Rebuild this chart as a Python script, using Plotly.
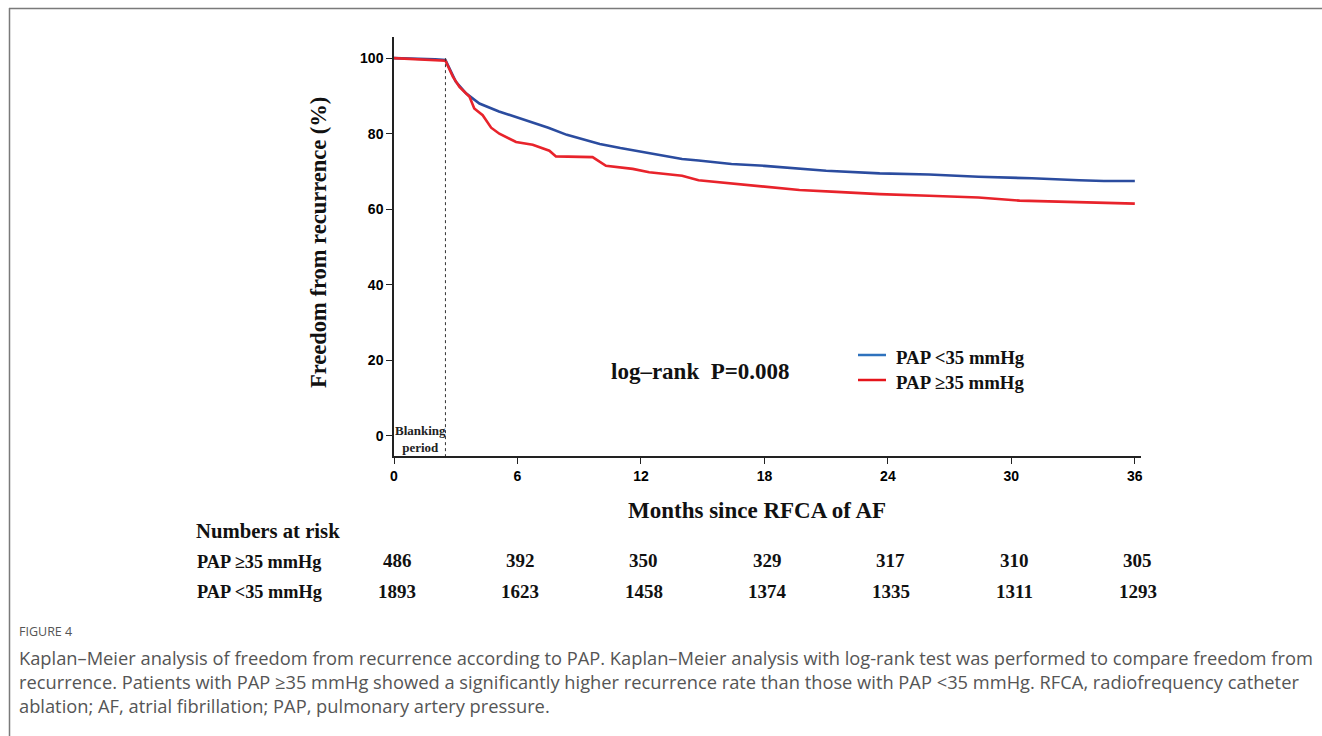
import plotly.graph_objects as go

# ---------------- data ----------------
months_low = [0, 1, 2, 2.5, 2.75, 3.0, 3.5, 4.15, 5.1, 6.0, 6.7, 7.5, 8.4, 9.2, 10.0, 11.0, 12.0,
              12.5, 13.2, 14.0, 14.8, 16.4, 18.0, 19.7, 21.0, 23.6, 26.0, 28.4, 30.0, 31.0, 33.3, 34.5, 36.0]
surv_low = [100, 99.9, 99.7, 99.5, 96.5, 93.8, 90.7, 88.0, 85.9, 84.3, 83.1, 81.6, 79.7, 78.6, 77.3, 76.2, 75.3,
            74.8, 74.2, 73.3, 72.9, 72.0, 71.5, 70.7, 70.2, 69.5, 69.2, 68.6, 68.4, 68.2, 67.7, 67.5, 67.5]

months_high = [0, 1, 2, 2.5, 2.86, 3.18, 3.67, 3.9, 4.31, 4.72, 5.12, 5.93, 6.74, 7.55, 7.87, 9.65, 10.3,
               11.6, 12.4, 14.0, 14.8, 16.4, 18.1, 19.7, 21.5, 23.6, 26.0, 28.4, 30.4, 31.0, 33.3, 35.0, 36.0]
surv_high = [100, 99.7, 99.4, 99.3, 95.1, 92.4, 89.8, 86.7, 84.9, 81.6, 80.0, 77.8, 77.1, 75.5, 74.0, 73.8, 71.5,
             70.7, 69.8, 68.9, 67.7, 66.8, 65.9, 65.1, 64.6, 64.0, 63.6, 63.1, 62.3, 62.2, 62.0, 61.6, 61.5]

risk_times = [0, 6, 12, 18, 24, 30, 36]
risk_high = [486, 392, 350, 329, 317, 310, 305]
risk_low = [1893, 1623, 1458, 1374, 1335, 1311, 1293]

x_ticks = [0, 6, 12, 18, 24, 30, 36]
y_ticks = [0, 20, 40, 60, 80, 100]
blanking_end = 2.5

label_low = "PAP <35 mmHg"
label_high = "PAP \u226535 mmHg"

caption_title = "FIGURE 4"
caption_lines = [
    "Kaplan\u2013Meier analysis of freedom from recurrence according to PAP. Kaplan\u2013Meier analysis with log-rank test was performed to compare freedom from",
    "recurrence. Patients with PAP \u226535 mmHg showed a significantly higher recurrence rate than those with PAP <35 mmHg. RFCA, radiofrequency catheter",
    "ablation; AF, atrial fibrillation; PAP, pulmonary artery pressure.",
]

# ---------------- layout helpers ----------------
W, H = 1322, 736
L, R, T, B = 394, 181, 37, 280
PW, PH = W - L - R, H - T - B


def px_x(p):
    return (p - L) / PW


def px_y(p):
    return 1 - (p - T) / PH


BLUE = "#2b4c9f"
RED = "#e8232b"
SERIF = "Liberation Serif"
TXT = "#111"

fig = go.Figure()
fig.add_trace(go.Scatter(x=months_low, y=surv_low, mode="lines", name=label_low,
                         line=dict(color=BLUE, width=2.6), showlegend=False))
fig.add_trace(go.Scatter(x=months_high, y=surv_high, mode="lines", name=label_high,
                         line=dict(color=RED, width=2.6), showlegend=False))

shapes = []
# blanking period dotted line
shapes.append(dict(type="line", xref="x", yref="y", x0=blanking_end, x1=blanking_end, y0=100, y1=-5.3,
                   line=dict(color="#333", width=1, dash="dot")))
# legend samples
shapes.append(dict(type="line", xref="paper", yref="paper", x0=px_x(858), x1=px_x(886),
                   y0=px_y(355), y1=px_y(355), line=dict(color="#2e72bd", width=2.5)))
shapes.append(dict(type="line", xref="paper", yref="paper", x0=px_x(858), x1=px_x(886),
                   y0=px_y(380), y1=px_y(380), line=dict(color="#e5141b", width=2.5)))
# frame border
shapes.append(dict(type="line", xref="paper", yref="paper", x0=px_x(9), x1=px_x(1330),
                   y0=px_y(8.5), y1=px_y(8.5), line=dict(color="#7a7a7a", width=1.5)))
shapes.append(dict(type="line", xref="paper", yref="paper", x0=px_x(9.5), x1=px_x(9.5),
                   y0=px_y(8), y1=px_y(740), line=dict(color="#7a7a7a", width=1.5)))

ann = []


def add_text(text, x, y, size, family=SERIF, color=TXT, xref="paper", yref="paper",
             xanchor="center", **kw):
    ann.append(dict(text=text, xref=xref, yref=yref, x=x, y=y, showarrow=False,
                    xanchor=xanchor, yanchor="middle",
                    font=dict(family=family, size=size, color=color), **kw))


# axis titles
add_text("<b>Freedom from recurrence (%)</b>", px_x(318), px_y(243), 22.5, textangle=-90)
add_text("<b>Months since RFCA of AF</b>", px_x(757), px_y(510), 23)
# log-rank
add_text("<b>log\u2013rank  P=0.008</b>", 14.9, 17.0, 23, xref="x", yref="y")
# blanking period
add_text("<b>Blanking<br>period</b>", blanking_end / 2 + 0.05, px_y(438.5), 13, color="#222",
         xref="x", align="center")
# legend text
add_text("<b>" + label_low + "</b>", px_x(894), px_y(357), 18.8, xanchor="left")
add_text("<b>" + label_high + "</b>", px_x(894), px_y(382), 18.8, xanchor="left")
# numbers at risk
add_text("<b>Numbers at risk</b>", px_x(194), px_y(531), 20.7, xanchor="left")
add_text("<b>" + label_high + "</b>", px_x(195), px_y(562), 18.3, xanchor="left")
add_text("<b>" + label_low + "</b>", px_x(195), px_y(592), 18.3, xanchor="left")
for t, nh, nl in zip(risk_times, risk_high, risk_low):
    add_text("<b>%d</b>" % nh, t, px_y(560), 19, xref="x", xshift=3)
    add_text("<b>%d</b>" % nl, t, px_y(591), 19, xref="x", xshift=3)
# caption
add_text(caption_title, px_x(17), px_y(631), 12.5, family="Open Sans", color="#555", xanchor="left")
for i, line in enumerate(caption_lines):
    add_text(line, px_x(17), px_y(657 + 24 * i), 18.3, family="Open Sans", color="#555", xanchor="left")

fig.update_layout(
    width=W, height=H,
    margin=dict(l=L, r=R, t=T, b=B, autoexpand=False),
    paper_bgcolor="white", plot_bgcolor="white",
    shapes=shapes, annotations=ann,
    xaxis=dict(range=[0, 36.3], tickvals=x_ticks, ticks="outside", ticklen=6, tickwidth=1.3,
               tickcolor="#222", showline=True, linecolor="#222", linewidth=1.5, showgrid=False,
               zeroline=False, tickfont=dict(family="Liberation Sans", size=14, color="black", weight="bold")),
    yaxis=dict(range=[-5.3, 105.6], tickvals=y_ticks, ticks="outside", ticklen=6, tickwidth=1.3,
               tickcolor="#222", showline=True, linecolor="#222", linewidth=1.5, showgrid=False,
               zeroline=False, tickfont=dict(family="Liberation Sans", size=14, color="black", weight="bold")),
)

fig.write_html("out.html", config={"displayModeBar": False},
               post_script="document.body.style.margin='0px';document.body.style.overflow='hidden';")
